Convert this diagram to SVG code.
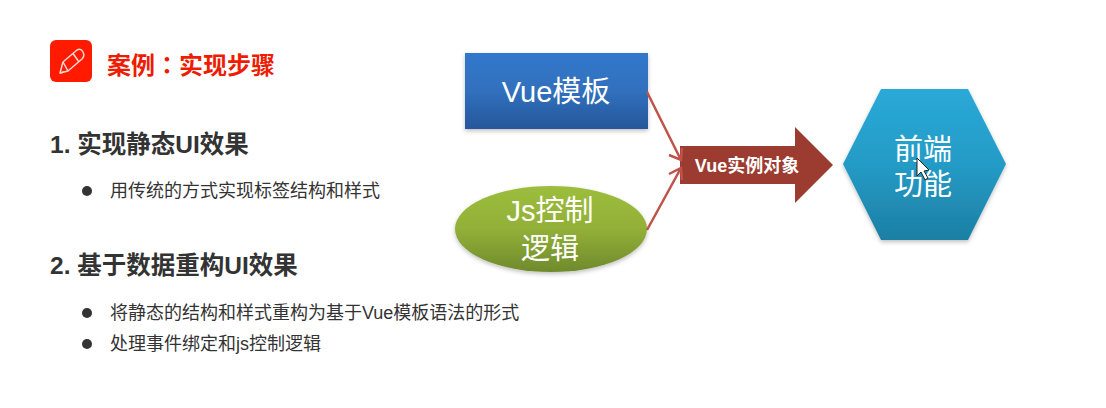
<svg xmlns="http://www.w3.org/2000/svg" width="1106" height="408" viewBox="0 0 1106 408">
<style>
text{font-family:"Liberation Sans","Noto Sans CJK SC",sans-serif}
.h{font-size:24.500px;font-weight:700;fill:#333}
.b{font-size:18px;fill:#333}
.w{fill:#fff;text-anchor:middle;font-size:29px}
.c{fill:none;stroke:#bf5349;stroke-width:2.500}
</style>
<defs>
<linearGradient id="gb" x1="0" y1="0" x2="0" y2="1"><stop offset="0" stop-color="#3378cc"/><stop offset=".5" stop-color="#3070bd"/><stop offset="1" stop-color="#26579a"/></linearGradient>
<linearGradient id="gg" x1="0" y1="0" x2="0" y2="1"><stop offset="0" stop-color="#9cbd3c"/><stop offset=".5" stop-color="#93b038"/><stop offset="1" stop-color="#6f8a2c"/></linearGradient>
<linearGradient id="gh" x1="0" y1="0" x2="0" y2="1"><stop offset="0" stop-color="#2aa9d8"/><stop offset=".5" stop-color="#249bc6"/><stop offset="1" stop-color="#1d7fa4"/></linearGradient>
<filter id="s" x="-10%" y="-10%" width="120%" height="125%"><feDropShadow dx="0" dy="2" stdDeviation="2" flood-color="#000" flood-opacity=".25"/></filter>
</defs>
<rect width="1106" height="408" fill="#fff"/>
<g id="title">
<rect x="50" y="40" width="42" height="42" rx="6" fill="#ff1a00"/>
<g fill="none" stroke="#ffd8d0" stroke-width="1.500" stroke-linejoin="round">
<path d="M60 73 L63 62 L77 50 Q81 48 83 52 Q85 56 82 59 L68 71 Z"/>
<path d="M63 62 L68 71 M73 53.500 L79 62 M60 73 L64 72"/>
</g>
<text x="107" y="73.500" font-size="24" font-weight="700" fill="#ee1c00">案例<tspan style="font-family:'Noto Sans CJK TC',sans-serif">：</tspan>实现步骤</text>
</g>
<g id="list">
<text class="h" x="50" y="153">1. 实现静态UI效果</text>
<circle cx="87" cy="191" r="5" fill="#333"/>
<text class="b" x="110" y="197">用传统的方式实现标签结构和样式</text>
<text class="h" x="50" y="274">2. 基于数据重构UI效果</text>
<circle cx="87" cy="313" r="5" fill="#333"/>
<text class="b" x="110" y="319">将静态的结构和样式重构为基于Vue模板语法的形式</text>
<circle cx="87" cy="344" r="5" fill="#333"/>
<text class="b" x="110" y="350">处理事件绑定和js控制逻辑</text>
</g>
<g id="vue-template">
<rect x="465" y="53" width="183" height="76" fill="url(#gb)" filter="url(#s)"/>
<text class="w" x="556" y="102">Vue模板</text>
</g>
<g id="js-logic">
<ellipse cx="551" cy="229" rx="96" ry="43" fill="url(#gg)" filter="url(#s)"/>
<text class="w" x="550" y="221">Js控制</text>
<text class="w" x="550" y="259">逻辑</text>
</g>
<g id="vue-instance">
<path d="M680 146 H795 V127 L833 165 L795 203 V184 H680 Z" fill="#9c3b30"/>
<text x="747" y="172" font-size="18" font-weight="700" fill="#fff" text-anchor="middle">Vue实例对象</text>
</g>
<g id="frontend">
<path d="M843 164 L881 89 H968 L1006 164 L968 240 H881 Z" fill="url(#gh)" filter="url(#s)"/>
<text class="w" x="923" y="160">前端</text>
<text class="w" x="923" y="195">功能</text>
</g>
<g id="connectors">
<path class="c" d="M647 92 L681 160 M669 155 L681 160 L682 148"/>
<path class="c" d="M647 230 L681 168 M669 174 L681 168 L682 180"/>
</g>
<path id="cursor" d="M917 158 V176 L921 172 L925 180 L928 178 L924 171 L929 170 Z" fill="#fff" stroke="#222" stroke-width="1"/>
</svg>
